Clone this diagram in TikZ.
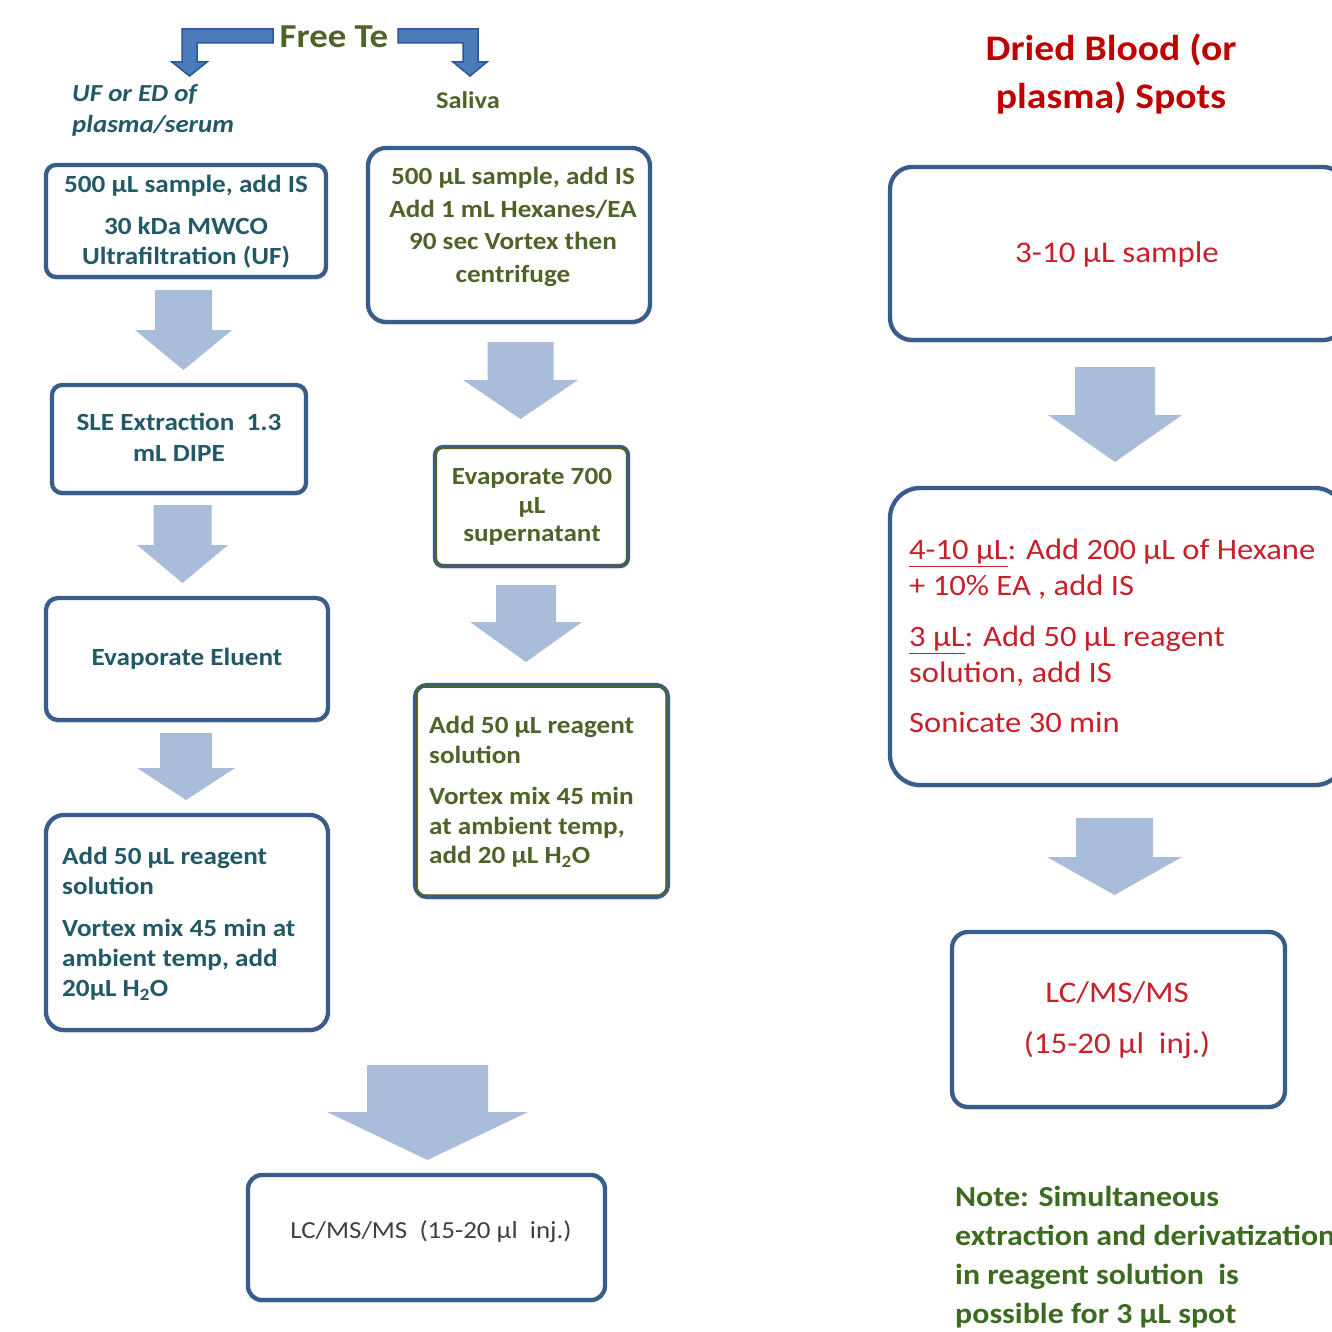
\documentclass[tikz,border=0pt]{standalone}
\usepackage{fontspec}
\setmainfont{Carlito}[FakeStretch=1.1]
\usetikzlibrary{shadows}
\definecolor{boxblue}{HTML}{385D8A}
\definecolor{tealtxt}{HTML}{215967}
\definecolor{olivetxt}{HTML}{4F6228}
\definecolor{redtxt}{HTML}{C8202B}
\definecolor{titlered}{HTML}{C00000}
\definecolor{arrowfill}{HTML}{A9BCDA}
\definecolor{notegreen}{HTML}{3A6B1E}
\definecolor{brfill}{HTML}{4A7CBA}
\definecolor{brdraw}{HTML}{2B5797}
\definecolor{graytxt}{HTML}{404040}
\definecolor{innergreen}{HTML}{4F6228}
\newcommand\blockarrow[7]{% name, cx, top, headstart, tip, shaft half, head half
  \fill[arrowfill] ({#2-#6},#3) coordinate (#1) -- ({#2+#6},#3) -- ({#2+#6},#4) -- ({#2+#7},#4)
    -- (#2,#5) -- ({#2-#7},#4) -- ({#2-#6},#4) -- cycle;}
\tikzset{
  box/.style={draw=boxblue, line width=4.3pt, fill=white, inner sep=0pt,
    drop shadow={shadow xshift=0pt, shadow yshift=-3pt, fill=black!25, opacity=0.35}},
  tbold/.style={font=\bfseries\fontsize{24.7}{30}\selectfont, inner sep=0pt},
  lefttxt/.style={tbold, text=tealtxt},
  midtxt/.style={tbold, text=olivetxt},
  redbox/.style={font=\fontsize{29.6}{36}\selectfont, text=redtxt, inner sep=0pt},
}
\begin{document}
\begin{tikzpicture}[x=1pt,y=-1pt]
\useasboundingbox (0,0) rectangle (1332,1332);
\clip (0,0) rectangle (1332,1332);
\fill[white] (0,0) rectangle (1332,1332);

% ---- top bracket arrows and titles
\node[font=\bfseries\fontsize{33.5}{36}\selectfont, text=olivetxt, inner sep=0pt] (free) at (334,37) {Free Te};
\draw[brdraw, fill=brfill, line width=1.5pt, line join=miter]
  (273,29) -- (182,29) -- (182,62) -- (172,62) -- (189.5,76) -- (207,62) -- (197,62) -- (197,43) -- (273,43) -- cycle;
\draw[brdraw, fill=brfill, line width=1.5pt, line join=miter]
  (398,29) -- (478,29) -- (478,62) -- (487,62) -- (470,76) -- (453,62) -- (463,62) -- (463,43) -- (398,43) -- cycle;
\node[font=\bfseries\itshape\fontsize{24.5}{31}\selectfont, text=tealtxt, align=left, anchor=west, inner sep=0pt] (uf) at (72,110) {UF or ED of\\plasma/serum};
\node[midtxt, font=\bfseries\fontsize{24}{26}\selectfont] (sal) at (468,100) {Saliva};

% ---- left column
\node[box, rounded corners=10pt, minimum width=280pt, minimum height=112pt] (l1) at (186,221) {};
\node[lefttxt, align=center] (l1t) at (186,222) {500 µL sample, add IS\\[12pt]30 kDa MWCO\\Ultrafiltration (UF)};
\blockarrow{a1}{183.5}{290}{330}{370}{28.5}{48.5}

\node[box, rounded corners=10pt, minimum width=254pt, minimum height=108pt] (l2) at (179,439) {};
\node[lefttxt, align=center, font=\bfseries\fontsize{24.7}{31}\selectfont] (l2t) at (179,437) {SLE Extraction\ \ 1.3\\mL DIPE};
\blockarrow{a2}{182.5}{505}{545}{583}{29}{45.5}

\node[box, rounded corners=12pt, minimum width=282pt, minimum height=122pt] (l3) at (187,659) {};
\node[lefttxt] (l3t) at (187,659) {Evaporate Eluent};
\blockarrow{a3}{186}{733}{768}{800}{26}{49}

\node[box, rounded corners=18pt, minimum width=282pt, minimum height=215pt] (l4) at (187,922.5) {};
\node[lefttxt, align=left, anchor=west] (l4t) at (62,924) {Add 50 µL reagent\\solution\\[12pt]Vortex mix 45 min at\\ambient temp, add\\20µL H\textsubscript{2}O};

% ---- middle column
\node[box, rounded corners=18pt, minimum width=282pt, minimum height=174pt] (m1) at (509,235) {};
\node[midtxt, align=center, font=\bfseries\fontsize{24.7}{32.5}\selectfont] (m1t) at (513,227) {500 µL sample, add IS\\Add 1 mL Hexanes/EA\\90 sec Vortex then\\centrifuge};
\blockarrow{a4}{520.5}{342}{380}{419}{33}{57.5}

\node[box, rounded corners=8pt, minimum width=193pt, minimum height=119pt] (m2) at (531.5,506.5) {};
\draw[innergreen, line width=1.8pt, rounded corners=5pt] ([shift={(3,-3)}]m2.south west) rectangle ([shift={(-3,3)}]m2.north east);
\node[midtxt, align=center, font=\bfseries\fontsize{24.7}{28.5}\selectfont] (m2t) at (532,507) {Evaporate 700\\µL\\supernatant};
\blockarrow{a5}{526}{585}{622}{662}{30}{56}

\node[box, rounded corners=12pt, minimum width=253pt, minimum height=212pt] (m3) at (541.5,791) {};
\draw[innergreen, line width=1.8pt, rounded corners=6pt] ([shift={(4,-4)}]m3.south west) rectangle ([shift={(-4,4)}]m3.north east);
\node[midtxt, align=left, anchor=west, font=\bfseries\fontsize{24.7}{29.5}\selectfont] (m3t) at (429,792) {Add 50 µL reagent\\solution\\[12pt]Vortex mix 45 min\\at ambient temp,\\add 20 µL H\textsubscript{2}O};

% ---- bottom
\blockarrow{a6}{427.5}{1065}{1112}{1160}{60.5}{100.5}
\node[box, rounded corners=14pt, minimum width=357pt, minimum height=125pt] (b) at (426.5,1237.5) {};
\node[font=\fontsize{24.5}{28}\selectfont, text=graytxt, inner sep=0pt] (bt) at (431,1232) {LC/MS/MS\ \ (15-20 µl\ \ inj.)};

% ---- right column
\node[font=\bfseries\fontsize{36}{48}\selectfont, text=titlered, align=center, inner sep=0pt] (rt) at (1111,74) {Dried Blood (or\\plasma) Spots};
\node[box, rounded corners=22pt, minimum width=455pt, minimum height=173pt] (r1) at (1117.5,253.5) {};
\node[redbox, font=\fontsize{30}{36}\selectfont] (r1t) at (1117,255) {3-10 µL sample};
\blockarrow{a7}{1115}{367}{415}{462}{40}{67}

\node[box, rounded corners=30pt, minimum width=455pt, minimum height=297pt] (r2) at (1117.5,636.5) {};
\node[redbox, align=left, anchor=west] (r2t) at (909,636) {\underline{4-10 µL}: Add 200 µL of Hexane\\+ 10\% EA , add IS\\[15pt]\underline{3 µL}: Add 50 µL reagent\\solution, add IS\\[14pt]Sonicate 30 min};
\blockarrow{a8}{1114.5}{818}{857}{895}{38.5}{67.5}

\node[box, rounded corners=16pt, minimum width=333pt, minimum height=175pt] (r3) at (1118.5,1019.5) {};
\node[redbox, align=center, font=\fontsize{30}{51}\selectfont] (r3t) at (1117,1020) {LC/MS/MS\\(15-20 µl\ \ inj.)};

\node[font=\bfseries\fontsize{29}{39}\selectfont, text=notegreen, align=left, anchor=west, inner sep=0pt] (note) at (955,1257) {Note: Simultaneous\\extraction and derivatization\\in reagent solution\ \ is\\possible for 3 µL spot};
\end{tikzpicture}
\end{document}
